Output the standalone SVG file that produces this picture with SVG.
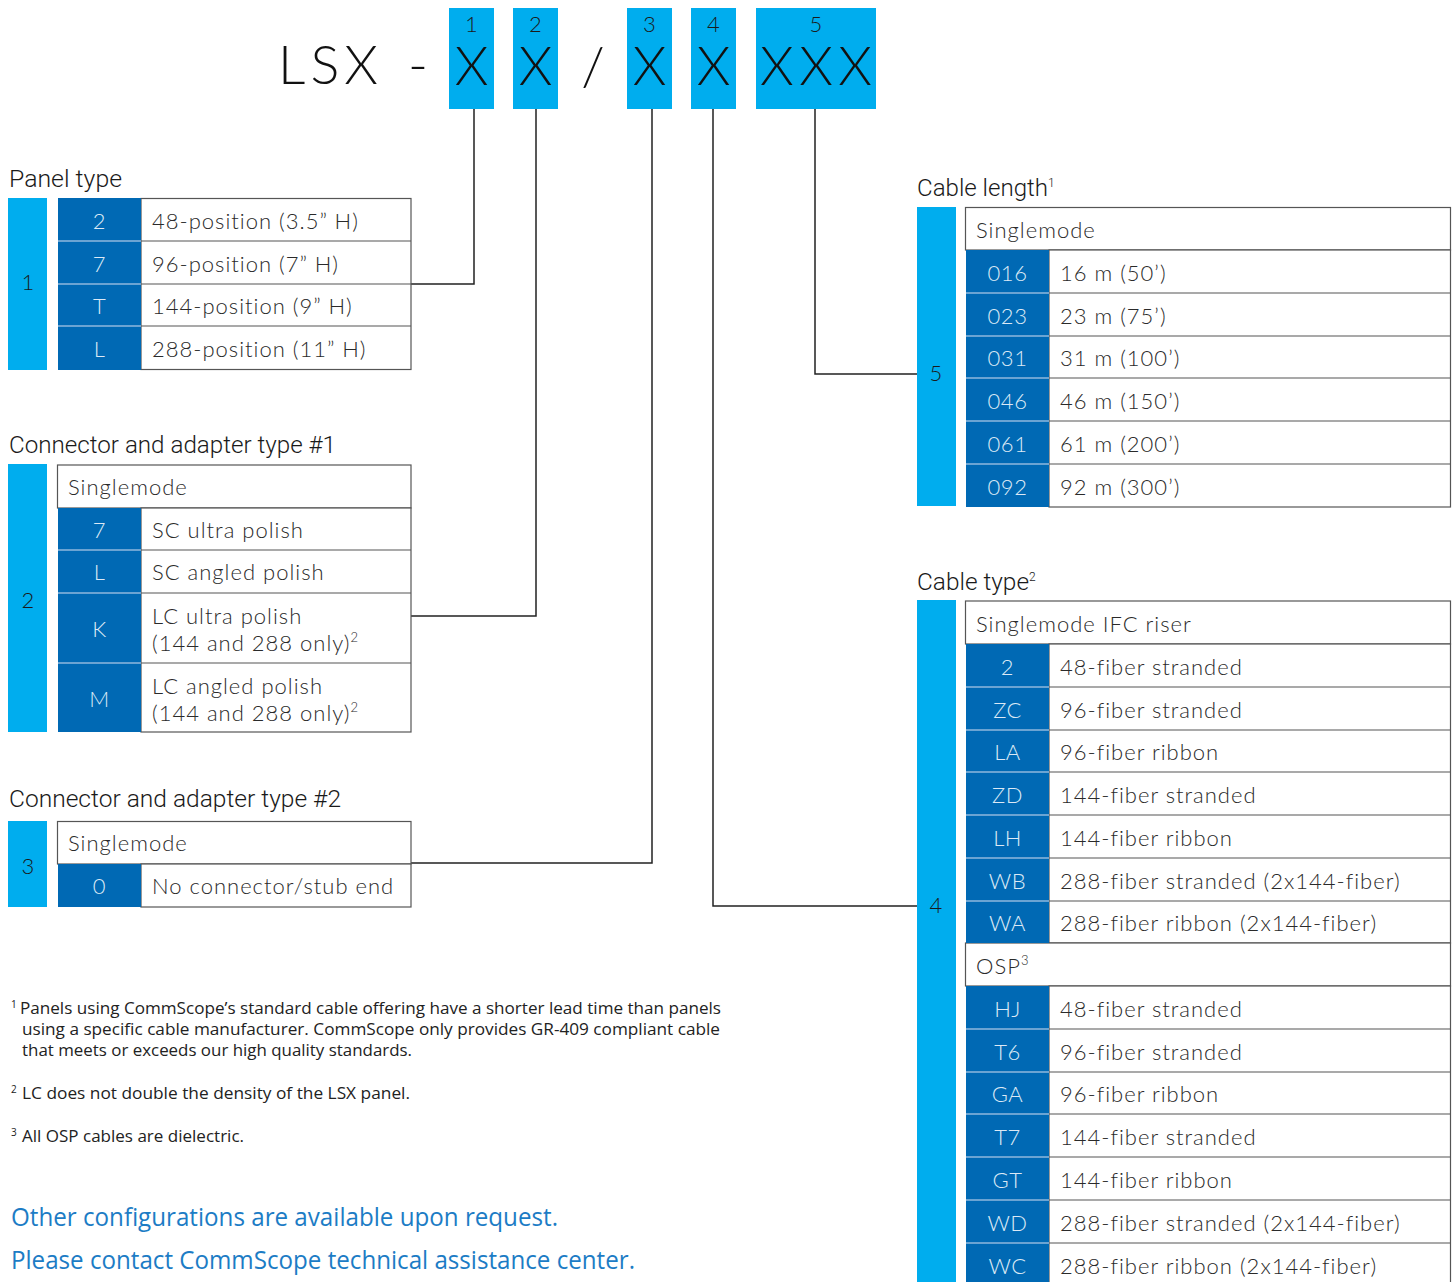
<svg xmlns="http://www.w3.org/2000/svg" width="1453" height="1282" viewBox="0 0 1453 1282">
<style>
.lb{fill:#00ADEE}
.db{fill:#0069B4}
.cell{fill:#fff;stroke:#555;stroke-width:1.2}
.sep{stroke:#8FB8DE;stroke-width:1.5}
.t{font-family:Lato,"Noto Sans",sans-serif;font-weight:300;font-size:22px;letter-spacing:1px;fill:#2a2a2a}
.c{font-family:Lato,"Noto Sans",sans-serif;font-weight:300;font-size:22px;letter-spacing:0.5px;fill:#DCE9F6;text-anchor:middle}
.n{font-family:Lato,"Noto Sans",sans-serif;font-weight:300;font-size:22px;fill:#1a1a1a;text-anchor:middle}
.h{font-family:Roboto,"Noto Sans",sans-serif;font-weight:300;font-size:24px;fill:#1a1a1a}
.big{font-family:Lato,"Noto Sans",sans-serif;font-weight:300;font-size:54px;fill:#111}
.fn{font-family:"Open Sans","Noto Sans",sans-serif;font-size:16px;fill:#222}
.sup{font-family:"Open Sans","Noto Sans",sans-serif;font-size:10px;fill:#222}
.blue{font-family:"Open Sans","Noto Sans",sans-serif;font-size:25px;fill:#1C7CC5}
.ln{fill:none;stroke:#222;stroke-width:1.5}
</style>

<g id="header">
  <text class="big" x="278" y="84" textLength="100" lengthAdjust="spacing">LSX</text>
  <text class="big" x="408" y="84">-</text>
  <rect class="lb" x="449" y="8" width="45" height="101"/>
  <rect class="lb" x="513" y="8" width="45" height="101"/>
  <rect class="lb" x="627" y="8" width="45" height="101"/>
  <rect class="lb" x="691" y="8" width="45" height="101"/>
  <rect class="lb" x="756" y="8" width="120" height="101"/>
  <g class="n" style="font-size:22px">
    <text x="471.5" y="32">1</text>
    <text x="535.5" y="32">2</text>
    <text x="649.5" y="32">3</text>
    <text x="713.5" y="32">4</text>
    <text x="816" y="32">5</text>
  </g>
  <g class="big" style="text-anchor:middle">
    <text x="471.5" y="85">X</text>
    <text x="535.5" y="85">X</text>
    <text x="593" y="85">/</text>
    <text x="649.5" y="85">X</text>
    <text x="713.5" y="85">X</text>
    <text x="816" y="85" textLength="112" lengthAdjust="spacing">XXX</text>
  </g>
</g>

<g id="connectors">
  <polyline class="ln" points="474,109 474,284 411,284"/>
  <polyline class="ln" points="536,109 536,616 411,616"/>
  <polyline class="ln" points="652,109 652,863 411,863"/>
  <polyline class="ln" points="713,109 713,906 917,906"/>
  <polyline class="ln" points="815,109 815,374 917,374"/>
</g>

<g id="panel-type">
  <text class="h" x="9" y="187" textLength="113" lengthAdjust="spacingAndGlyphs">Panel type</text>
  <rect class="lb" x="8" y="198" width="39" height="172"/>
  <text class="n" x="28" y="290">1</text>
  <rect class="cell" x="141" y="198.5" width="270" height="171"/>
  <line x1="141" y1="241" x2="411" y2="241" stroke="#555" stroke-width="1.2"/>
  <line x1="141" y1="284" x2="411" y2="284" stroke="#555" stroke-width="1.2"/>
  <line x1="141" y1="326" x2="411" y2="326" stroke="#555" stroke-width="1.2"/>
  <rect class="db" x="58" y="198" width="83" height="172"/>
  <line class="sep" x1="58" y1="241" x2="141" y2="241"/>
  <line class="sep" x1="58" y1="284" x2="141" y2="284"/>
  <line class="sep" x1="58" y1="326" x2="141" y2="326"/>
  <text class="c" x="99.5" y="229">2</text>
  <text class="c" x="99.5" y="272">7</text>
  <text class="c" x="99.5" y="314">T</text>
  <text class="c" x="99.5" y="357">L</text>
  <text class="t" x="152" y="229">48-position (3.5” H)</text>
  <text class="t" x="152" y="272">96-position (7” H)</text>
  <text class="t" x="152" y="314">144-position (9” H)</text>
  <text class="t" x="152" y="357">288-position (11” H)</text>
</g>

<g id="connector-type-1">
  <text class="h" x="9" y="453" textLength="327" lengthAdjust="spacingAndGlyphs">Connector and adapter type #1</text>
  <rect class="lb" x="8" y="464" width="39" height="268"/>
  <text class="n" x="28" y="608">2</text>
  <rect class="cell" x="57.5" y="465" width="353.5" height="43"/>
  <text class="t" x="68" y="495">Singlemode</text>
  <rect class="cell" x="141" y="508" width="270" height="224"/>
  <line x1="141" y1="550" x2="411" y2="550" stroke="#555" stroke-width="1.2"/>
  <line x1="141" y1="593" x2="411" y2="593" stroke="#555" stroke-width="1.2"/>
  <line x1="141" y1="663" x2="411" y2="663" stroke="#555" stroke-width="1.2"/>
  <rect class="db" x="58" y="508" width="83" height="224"/>
  <line class="sep" x1="58" y1="550" x2="141" y2="550"/>
  <line class="sep" x1="58" y1="593" x2="141" y2="593"/>
  <line class="sep" x1="58" y1="663" x2="141" y2="663"/>
  <text class="c" x="99.5" y="538">7</text>
  <text class="c" x="99.5" y="580">L</text>
  <text class="c" x="99.5" y="637">K</text>
  <text class="c" x="99.5" y="707">M</text>
  <text class="t" x="152" y="538">SC ultra polish</text>
  <text class="t" x="152" y="580">SC angled polish</text>
  <text class="t" x="152" y="624">LC ultra polish</text>
  <text class="t" x="152" y="651">(144 and 288 only)<tspan font-size="13" dy="-9">2</tspan></text>
  <text class="t" x="152" y="694">LC angled polish</text>
  <text class="t" x="152" y="721">(144 and 288 only)<tspan font-size="13" dy="-9">2</tspan></text>
</g>

<g id="connector-type-2">
  <text class="h" x="9" y="807" textLength="332" lengthAdjust="spacingAndGlyphs">Connector and adapter type #2</text>
  <rect class="lb" x="8" y="821" width="39" height="86"/>
  <text class="n" x="28" y="874">3</text>
  <rect class="cell" x="57.5" y="821.5" width="353.5" height="42.5"/>
  <text class="t" x="68" y="851">Singlemode</text>
  <rect class="cell" x="141" y="864" width="270" height="43"/>
  <rect class="db" x="58" y="864" width="83" height="43"/>
  <text class="c" x="99.5" y="894">0</text>
  <text class="t" x="152" y="894">No connector/stub end</text>
</g>

<g id="cable-length">
  <text class="h" x="917" y="196"><tspan textLength="131" lengthAdjust="spacingAndGlyphs">Cable length</tspan><tspan font-size="12" dy="-9">1</tspan></text>
  <rect class="lb" x="917" y="207" width="39" height="299"/>
  <text class="n" x="936" y="381">5</text>
  <rect class="cell" x="965.5" y="207.5" width="485" height="42.5"/>
  <text class="t" x="976" y="238">Singlemode</text>
  <rect class="cell" x="1049" y="250" width="401.5" height="257"/>
  <line x1="1049" y1="293" x2="1450" y2="293" stroke="#555" stroke-width="1.2"/>
  <line x1="1049" y1="336" x2="1450" y2="336" stroke="#555" stroke-width="1.2"/>
  <line x1="1049" y1="378" x2="1450" y2="378" stroke="#555" stroke-width="1.2"/>
  <line x1="1049" y1="421" x2="1450" y2="421" stroke="#555" stroke-width="1.2"/>
  <line x1="1049" y1="464" x2="1450" y2="464" stroke="#555" stroke-width="1.2"/>
  <rect class="db" x="966" y="250" width="83" height="257"/>
  <line class="sep" x1="966" y1="293" x2="1049" y2="293"/>
  <line class="sep" x1="966" y1="336" x2="1049" y2="336"/>
  <line class="sep" x1="966" y1="378" x2="1049" y2="378"/>
  <line class="sep" x1="966" y1="421" x2="1049" y2="421"/>
  <line class="sep" x1="966" y1="464" x2="1049" y2="464"/>
  <text class="c" x="1007.5" y="281">016</text>
  <text class="c" x="1007.5" y="324">023</text>
  <text class="c" x="1007.5" y="366">031</text>
  <text class="c" x="1007.5" y="409">046</text>
  <text class="c" x="1007.5" y="452">061</text>
  <text class="c" x="1007.5" y="495">092</text>
  <text class="t" x="1060" y="281">16 m (50’)</text>
  <text class="t" x="1060" y="324">23 m (75’)</text>
  <text class="t" x="1060" y="366">31 m (100’)</text>
  <text class="t" x="1060" y="409">46 m (150’)</text>
  <text class="t" x="1060" y="452">61 m (200’)</text>
  <text class="t" x="1060" y="495">92 m (300’)</text>
</g>

<g id="cable-type">
  <text class="h" x="917" y="590"><tspan textLength="112" lengthAdjust="spacingAndGlyphs">Cable type</tspan><tspan font-size="12" dy="-9">2</tspan></text>
  <rect class="lb" x="917" y="600" width="39" height="682"/>
  <text class="n" x="936" y="913">4</text>
  <rect class="cell" x="965.5" y="601" width="485" height="43"/>
  <text class="t" x="976" y="632">Singlemode IFC riser</text>
  <rect class="cell" x="1049" y="644" width="401.5" height="299"/>
  <rect class="cell" x="965.5" y="943" width="485" height="43"/>
  <text class="t" x="976" y="974">OSP<tspan font-size="13" dy="-9">3</tspan></text>
  <rect class="cell" x="1049" y="986" width="401.5" height="310"/>
  <g stroke="#555" stroke-width="1.2">
    <line x1="1049" y1="687" x2="1450" y2="687"/>
    <line x1="1049" y1="730" x2="1450" y2="730"/>
    <line x1="1049" y1="772" x2="1450" y2="772"/>
    <line x1="1049" y1="815" x2="1450" y2="815"/>
    <line x1="1049" y1="858" x2="1450" y2="858"/>
    <line x1="1049" y1="901" x2="1450" y2="901"/>
    <line x1="1049" y1="1029" x2="1450" y2="1029"/>
    <line x1="1049" y1="1072" x2="1450" y2="1072"/>
    <line x1="1049" y1="1114" x2="1450" y2="1114"/>
    <line x1="1049" y1="1157" x2="1450" y2="1157"/>
    <line x1="1049" y1="1200" x2="1450" y2="1200"/>
    <line x1="1049" y1="1243" x2="1450" y2="1243"/>
  </g>
  <rect class="db" x="966" y="644" width="83" height="299"/>
  <rect class="db" x="966" y="986" width="83" height="296"/>
  <g class="sep">
    <line x1="966" y1="687" x2="1049" y2="687"/>
    <line x1="966" y1="730" x2="1049" y2="730"/>
    <line x1="966" y1="772" x2="1049" y2="772"/>
    <line x1="966" y1="815" x2="1049" y2="815"/>
    <line x1="966" y1="858" x2="1049" y2="858"/>
    <line x1="966" y1="901" x2="1049" y2="901"/>
    <line x1="966" y1="1029" x2="1049" y2="1029"/>
    <line x1="966" y1="1072" x2="1049" y2="1072"/>
    <line x1="966" y1="1114" x2="1049" y2="1114"/>
    <line x1="966" y1="1157" x2="1049" y2="1157"/>
    <line x1="966" y1="1200" x2="1049" y2="1200"/>
    <line x1="966" y1="1243" x2="1049" y2="1243"/>
  </g>
  <g class="c">
    <text x="1007.5" y="675">2</text>
    <text x="1007.5" y="718">ZC</text>
    <text x="1007.5" y="760">LA</text>
    <text x="1007.5" y="803">ZD</text>
    <text x="1007.5" y="846">LH</text>
    <text x="1007.5" y="889">WB</text>
    <text x="1007.5" y="931">WA</text>
    <text x="1007.5" y="1017">HJ</text>
    <text x="1007.5" y="1060">T6</text>
    <text x="1007.5" y="1102">GA</text>
    <text x="1007.5" y="1145">T7</text>
    <text x="1007.5" y="1188">GT</text>
    <text x="1007.5" y="1231">WD</text>
    <text x="1007.5" y="1274">WC</text>
  </g>
  <g class="t">
    <text x="1060" y="675">48-fiber stranded</text>
    <text x="1060" y="718">96-fiber stranded</text>
    <text x="1060" y="760">96-fiber ribbon</text>
    <text x="1060" y="803">144-fiber stranded</text>
    <text x="1060" y="846">144-fiber ribbon</text>
    <text x="1060" y="889">288-fiber stranded (2x144-fiber)</text>
    <text x="1060" y="931">288-fiber ribbon (2x144-fiber)</text>
    <text x="1060" y="1017">48-fiber stranded</text>
    <text x="1060" y="1060">96-fiber stranded</text>
    <text x="1060" y="1102">96-fiber ribbon</text>
    <text x="1060" y="1145">144-fiber stranded</text>
    <text x="1060" y="1188">144-fiber ribbon</text>
    <text x="1060" y="1231">288-fiber stranded (2x144-fiber)</text>
    <text x="1060" y="1274">288-fiber ribbon (2x144-fiber)</text>
  </g>
</g>

<g id="footnotes">
  <text class="sup" x="11" y="1008">1</text>
  <text class="fn" x="20" y="1014" textLength="701" lengthAdjust="spacingAndGlyphs">Panels using CommScope’s standard cable offering have a shorter lead time than panels</text>
  <text class="fn" x="22" y="1035" textLength="698" lengthAdjust="spacingAndGlyphs">using a specific cable manufacturer. CommScope only provides GR-409 compliant cable</text>
  <text class="fn" x="22" y="1056" textLength="390" lengthAdjust="spacingAndGlyphs">that meets or exceeds our high quality standards.</text>
  <text class="sup" x="11" y="1093">2</text>
  <text class="fn" x="22" y="1099" textLength="388" lengthAdjust="spacingAndGlyphs">LC does not double the density of the LSX panel.</text>
  <text class="sup" x="11" y="1136">3</text>
  <text class="fn" x="22" y="1142" textLength="222" lengthAdjust="spacingAndGlyphs">All OSP cables are dielectric.</text>
  <text class="blue" x="11" y="1226" textLength="547" lengthAdjust="spacingAndGlyphs">Other configurations are available upon request.</text>
  <text class="blue" x="11" y="1269" textLength="624" lengthAdjust="spacingAndGlyphs">Please contact CommScope technical assistance center.</text>
</g>
</svg>
